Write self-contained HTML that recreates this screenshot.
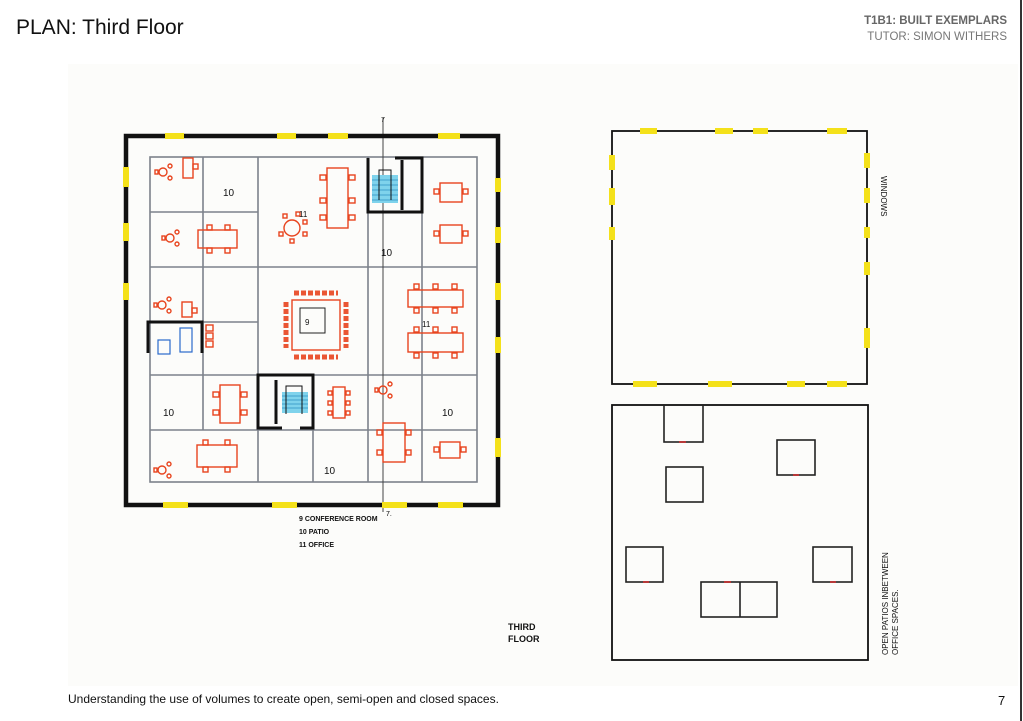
<!DOCTYPE html>
<html><head><meta charset="utf-8"><style>
html,body{margin:0;padding:0;background:#fff;width:1023px;height:721px;overflow:hidden;font-family:"Liberation Sans",sans-serif}
</style></head><body>
<svg width="1023" height="721" viewBox="0 0 1023 721" xmlns="http://www.w3.org/2000/svg" style="position:absolute;left:0;top:0">
<rect x="68" y="64" width="950" height="622" fill="#fcfcfa"/>
<line x1="1021" y1="0" x2="1021" y2="721" stroke="#333" stroke-width="2"/>
<text x="16" y="34" font-size="21" fill="#111">PLAN: <tspan font-weight="normal">Third Floor</tspan></text>
<text x="1007" y="24" font-size="11.5" font-weight="bold" fill="#666" text-anchor="end">T1B1: BUILT EXEMPLARS</text>
<text x="1007" y="40" font-size="11.5" fill="#777" text-anchor="end">TUTOR: SIMON WITHERS</text>
<text x="68" y="703" font-size="12" fill="#111">Understanding the use of volumes to create open, semi-open and closed spaces.</text>
<text x="998" y="705" font-size="13" fill="#111">7</text>

<!-- main plan -->
<g fill="none" stroke="#7d828b" stroke-width="1.6">
<rect x="150" y="157" width="327" height="325"/>
<line x1="203" y1="157" x2="203" y2="430"/>
<line x1="258" y1="157" x2="258" y2="482"/>
<line x1="368" y1="157" x2="368" y2="482"/>
<line x1="422" y1="157" x2="422" y2="482"/>
<line x1="150" y1="212" x2="258" y2="212"/>
<line x1="150" y1="267" x2="477" y2="267"/>
<line x1="203" y1="322" x2="258" y2="322"/>
<line x1="150" y1="375" x2="477" y2="375"/>
<line x1="150" y1="430" x2="477" y2="430"/>
<line x1="313" y1="430" x2="313" y2="482"/>
</g>
<line x1="383" y1="118" x2="383" y2="512" stroke="#444" stroke-width="1"/>
<text x="381" y="122" font-size="7">7</text>
<text x="386" y="516" font-size="7">7.</text>
<rect x="126" y="136" width="372" height="369" fill="none" stroke="#111" stroke-width="4.5"/>
<g stroke="#f4e11a" stroke-width="6">
<line x1="165" y1="136" x2="184" y2="136"/><line x1="277" y1="136" x2="296" y2="136"/><line x1="328" y1="136" x2="348" y2="136"/><line x1="438" y1="136" x2="460" y2="136"/>
<line x1="163" y1="505" x2="188" y2="505"/><line x1="272" y1="505" x2="297" y2="505"/><line x1="382" y1="505" x2="407" y2="505"/><line x1="438" y1="505" x2="463" y2="505"/>
<line x1="126" y1="167" x2="126" y2="187"/><line x1="126" y1="223" x2="126" y2="241"/><line x1="126" y1="283" x2="126" y2="300"/>
<line x1="498" y1="178" x2="498" y2="192"/><line x1="498" y1="227" x2="498" y2="243"/><line x1="498" y1="283" x2="498" y2="300"/><line x1="498" y1="337" x2="498" y2="353"/><line x1="498" y1="438" x2="498" y2="457"/>
</g>
<!-- stairs -->
<rect x="372" y="175" width="26" height="28" fill="#7fd3ec"/>
<rect x="282" y="392" width="26" height="21" fill="#7fd3ec"/>
<g stroke="#2b8fc0" stroke-width="0.8">
<line x1="372" y1="180" x2="398" y2="180"/><line x1="372" y1="185" x2="398" y2="185"/><line x1="372" y1="190" x2="398" y2="190"/><line x1="372" y1="195" x2="398" y2="195"/><line x1="372" y1="200" x2="398" y2="200"/>
<line x1="282" y1="396" x2="308" y2="396"/><line x1="282" y1="400" x2="308" y2="400"/><line x1="282" y1="404" x2="308" y2="404"/><line x1="282" y1="408" x2="308" y2="408"/>
</g>
<g fill="none" stroke="#111" stroke-width="1">
<path d="M379 200 V170 H391 V200"/><path d="M286 414 V386 H302 V414"/>
</g>
<g fill="none" stroke="#111" stroke-width="3">
<path d="M368 158 V212 H422 V158 H395"/><line x1="402" y1="160" x2="402" y2="210"/>
<path d="M282 428 H258 V375 H313 V428 H300"/><line x1="276" y1="380" x2="276" y2="424"/>
<path d="M148 353 V322 H202 V353"/>
</g>
<rect x="158" y="340" width="12" height="14" fill="none" stroke="#2a6acb" stroke-width="1.2"/>
<rect x="180" y="328" width="12" height="24" fill="none" stroke="#2a6acb" stroke-width="1.2"/>
<!-- furniture -->
<g fill="none" stroke="#e8441e" stroke-width="1.4">
<rect x="183" y="158" width="10" height="20"/><rect x="193" y="164" width="5" height="5"/>
<circle cx="163" cy="172" r="4"/><rect x="155" y="170" width="3" height="4"/><circle cx="170" cy="166" r="2"/><circle cx="170" cy="178" r="2"/>
<circle cx="170" cy="238" r="4"/><rect x="162" y="236" width="3" height="4"/><circle cx="177" cy="232" r="2"/><circle cx="177" cy="244" r="2"/>
<circle cx="162" cy="305" r="4"/><rect x="154" y="303" width="3" height="4"/><circle cx="169" cy="299" r="2"/><circle cx="169" cy="311" r="2"/>
<circle cx="162" cy="470" r="4"/><rect x="154" y="468" width="3" height="4"/><circle cx="169" cy="464" r="2"/><circle cx="169" cy="476" r="2"/>
<circle cx="383" cy="390" r="4"/><rect x="375" y="388" width="3" height="4"/><circle cx="390" cy="384" r="2"/><circle cx="390" cy="396" r="2"/>
<rect x="198" y="230" width="39" height="18"/><rect x="207" y="225" width="5" height="5"/><rect x="225" y="225" width="5" height="5"/><rect x="207" y="248" width="5" height="5"/><rect x="225" y="248" width="5" height="5"/>
<circle cx="292" cy="228" r="8"/><rect x="283" y="214" width="4" height="4"/><rect x="296" y="212" width="4" height="4"/><rect x="303" y="220" width="4" height="4"/><rect x="303" y="232" width="4" height="4"/><rect x="290" y="239" width="4" height="4"/><rect x="279" y="232" width="4" height="4"/>
<rect x="327" y="168" width="21" height="60"/><rect x="320" y="175" width="6" height="5"/><rect x="320" y="198" width="6" height="5"/><rect x="320" y="215" width="6" height="5"/><rect x="349" y="175" width="6" height="5"/><rect x="349" y="198" width="6" height="5"/><rect x="349" y="215" width="6" height="5"/>
<rect x="440" y="183" width="22" height="19"/><rect x="434" y="189" width="5" height="5"/><rect x="463" y="189" width="5" height="5"/>
<rect x="440" y="225" width="22" height="18"/><rect x="434" y="231" width="5" height="5"/><rect x="463" y="231" width="5" height="5"/>
<rect x="408" y="290" width="55" height="17"/><rect x="414" y="284" width="5" height="5"/><rect x="433" y="284" width="5" height="5"/><rect x="452" y="284" width="5" height="5"/><rect x="414" y="308" width="5" height="5"/><rect x="433" y="308" width="5" height="5"/><rect x="452" y="308" width="5" height="5"/>
<rect x="408" y="333" width="55" height="19"/><rect x="414" y="327" width="5" height="5"/><rect x="433" y="327" width="5" height="5"/><rect x="452" y="327" width="5" height="5"/><rect x="414" y="353" width="5" height="5"/><rect x="433" y="353" width="5" height="5"/><rect x="452" y="353" width="5" height="5"/>
<rect x="292" y="300" width="48" height="50"/><rect x="300" y="308" width="25" height="25" stroke="#222" stroke-width="1"/>
<path d="M294 293 h44 M294 357 h44 M286 302 v46 M346 302 v46" stroke-dasharray="5 2" stroke-width="5" stroke="#e8441e" opacity="0.9"/>
<rect x="182" y="302" width="10" height="15"/><rect x="192" y="308" width="5" height="5"/>
<rect x="206" y="325" width="7" height="6"/><rect x="206" y="333" width="7" height="6"/><rect x="206" y="341" width="7" height="6"/>
<rect x="220" y="385" width="20" height="38"/><rect x="213" y="392" width="6" height="5"/><rect x="213" y="410" width="6" height="5"/><rect x="241" y="392" width="6" height="5"/><rect x="241" y="410" width="6" height="5"/>
<rect x="333" y="387" width="12" height="31"/><rect x="328" y="391" width="4" height="4"/><rect x="328" y="401" width="4" height="4"/><rect x="328" y="411" width="4" height="4"/><rect x="346" y="391" width="4" height="4"/><rect x="346" y="401" width="4" height="4"/><rect x="346" y="411" width="4" height="4"/>
<rect x="197" y="445" width="40" height="22"/><rect x="203" y="440" width="5" height="5"/><rect x="225" y="440" width="5" height="5"/><rect x="203" y="467" width="5" height="5"/><rect x="225" y="467" width="5" height="5"/>
<rect x="383" y="423" width="22" height="39"/><rect x="377" y="430" width="5" height="5"/><rect x="377" y="450" width="5" height="5"/><rect x="406" y="430" width="5" height="5"/><rect x="406" y="450" width="5" height="5"/>
<rect x="440" y="442" width="20" height="16"/><rect x="434" y="447" width="5" height="5"/><rect x="461" y="447" width="5" height="5"/>
</g>
<g font-size="10" fill="#111">
<text x="223" y="196">10</text><text x="381" y="256">10</text><text x="163" y="416">10</text><text x="442" y="416">10</text><text x="324" y="474">10</text>
<text x="299" y="217" font-size="8">11</text><text x="422" y="327" font-size="8">11</text><text x="305" y="325" font-size="8">9</text>
</g>
<g font-size="7" fill="#111" font-weight="bold">
<text x="299" y="521">9 CONFERENCE ROOM</text><text x="299" y="534">10 PATIO</text><text x="299" y="547">11 OFFICE</text>
</g>
<text x="508" y="630" font-size="9" font-weight="bold" fill="#111">THIRD</text>
<text x="508" y="642" font-size="9" font-weight="bold" fill="#111">FLOOR</text>

<!-- right top -->
<rect x="612" y="131" width="255" height="253" fill="none" stroke="#111" stroke-width="1.8"/>
<g stroke="#f4e11a" stroke-width="6">
<line x1="640" y1="131" x2="657" y2="131"/><line x1="715" y1="131" x2="733" y2="131"/><line x1="753" y1="131" x2="768" y2="131"/><line x1="827" y1="131" x2="847" y2="131"/>
<line x1="633" y1="384" x2="657" y2="384"/><line x1="708" y1="384" x2="732" y2="384"/><line x1="787" y1="384" x2="805" y2="384"/><line x1="827" y1="384" x2="847" y2="384"/>
<line x1="612" y1="155" x2="612" y2="170"/><line x1="612" y1="188" x2="612" y2="205"/><line x1="612" y1="227" x2="612" y2="240"/>
<line x1="867" y1="153" x2="867" y2="168"/><line x1="867" y1="188" x2="867" y2="203"/><line x1="867" y1="227" x2="867" y2="238"/><line x1="867" y1="262" x2="867" y2="275"/><line x1="867" y1="328" x2="867" y2="348"/>
</g>
<text transform="translate(881,176) rotate(90)" font-size="8" fill="#111">WINDOWS</text>
<!-- right bottom -->
<rect x="612" y="405" width="256" height="255" fill="none" stroke="#111" stroke-width="1.8"/>
<g fill="none" stroke="#222" stroke-width="1.6">
<rect x="664" y="405" width="39" height="37"/><rect x="777" y="440" width="38" height="35"/><rect x="666" y="467" width="37" height="35"/>
<rect x="626" y="547" width="37" height="35"/><rect x="813" y="547" width="39" height="35"/><rect x="701" y="582" width="76" height="35"/><line x1="740" y1="582" x2="740" y2="617"/>
</g>
<g stroke="#c22" stroke-width="1.5">
<line x1="679" y1="442" x2="686" y2="442"/><line x1="793" y1="475" x2="799" y2="475"/><line x1="643" y1="582" x2="649" y2="582"/><line x1="830" y1="582" x2="836" y2="582"/><line x1="724" y1="582" x2="731" y2="582"/>
</g>
<text transform="translate(888,655) rotate(-90)" font-size="8" fill="#111">OPEN PATIOS INBETWEEN</text>
<text transform="translate(898,655) rotate(-90)" font-size="8" fill="#111">OFFICE SPACES.</text>
</svg>
</body></html>
